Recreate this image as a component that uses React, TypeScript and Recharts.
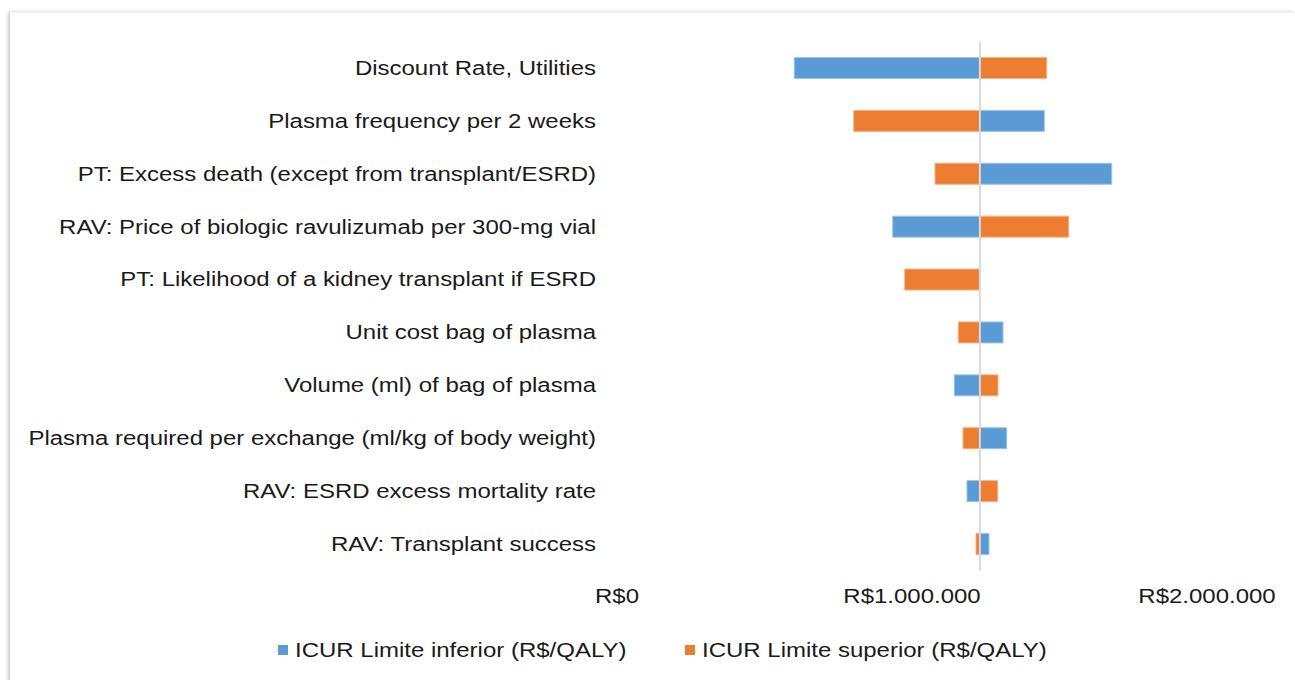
import React from "react";
import { BarChart, Bar, XAxis, YAxis, ReferenceLine, Legend } from "recharts";

const categories = [
  "Discount Rate, Utilities",
  "Plasma frequency per 2 weeks",
  "PT: Excess death (except from transplant/ESRD)",
  "RAV: Price of biologic ravulizumab per 300-mg vial",
  "PT: Likelihood of a kidney transplant if ESRD",
  "Unit cost bag of plasma",
  "Volume (ml) of bag of plasma",
  "Plasma required per exchange (ml/kg of body weight)",
  "RAV: ESRD excess mortality rate",
  "RAV: Transplant success",
];
const baseValue = 1230000;
const inferior = [601000, 1448500, 1677000, 934600, 1230000, 1308500, 1143400, 1321000, 1186400, 1261000];
const superior = [1456600, 802400, 1078000, 1531200, 975300, 1157000, 1291500, 1172900, 1290500, 1217000];
const xTicks = [0, 1000000, 2000000];
const seriesNames = ["ICUR Limite inferior (R$/QALY)", "ICUR Limite superior (R$/QALY)"];

const BLUE = "#5B9BD5";
const ORANGE = "#ED7D31";
const FONT = "'Liberation Sans', Arial, sans-serif";
const TEXT = "#1a1a1a";
const FS = 19.5;
const SX = 1.23;

const range = (v: number) => [Math.min(baseValue, v), Math.max(baseValue, v)];
const data = categories.map((c, i) => ({
  name: c,
  inf: range(inferior[i]),
  sup: range(superior[i]),
}));

const fmt = (v: number) => "R$" + String(Math.round(v)).replace(/\B(?=(\d{3})+(?!\d))/g, ".");

const YTick = (props: any) => {
  const { x, y, payload } = props;
  return (
    <g transform={`translate(${x},${y}) scale(${SX},1)`}>
      <text x={0} y={0} dy="0.355em" textAnchor="end" fontFamily={FONT} fontSize={FS} fill={TEXT}>
        {payload.value}
      </text>
    </g>
  );
};

const XTick = (props: any) => {
  const { x, y, payload } = props;
  return (
    <g transform={`translate(${x},${y}) scale(${SX},1)`}>
      <text x={0} y={0} dy="0.71em" textAnchor="middle" fontFamily={FONT} fontSize={FS} fill={TEXT}>
        {fmt(payload.value)}
      </text>
    </g>
  );
};

const legendPos = [268, 675];

const LegendContent = () => (
  <div style={{ position: "relative", width: 1285, height: 30, fontFamily: FONT, fontSize: FS, color: TEXT }}>
    {[BLUE, ORANGE].map((col, i) => (
      <React.Fragment key={i}>
        <span
          style={{
            position: "absolute",
            left: legendPos[i],
            top: 10,
            width: 10,
            height: 10,
            background: col,
          }}
        />
        <span
          style={{
            position: "absolute",
            left: legendPos[i] + 17,
            top: 0,
            lineHeight: "30px",
            whiteSpace: "nowrap",
            transform: `scaleX(${SX})`,
            transformOrigin: "left center",
          }}
        >
          {seriesNames[i]}
        </span>
      </React.Fragment>
    ))}
  </div>
);

export default function App() {
  return (
    <div
      style={{
        position: "absolute",
        left: 10,
        top: 12,
        width: 1285,
        height: 668,
        background: "#fff",
        boxShadow: "-2px 0 3px rgba(0,0,0,0.22)",
        borderTop: "1px solid #f3f3f3",
      }}
    >
      <BarChart
        width={1285}
        height={668}
        data={data}
        layout="vertical"
        margin={{ top: 28.5, right: 88, bottom: 30.6, left: 0 }}
        barSize={21}
        barGap={-21}
      >
        <XAxis
          type="number"
          domain={[0, 2000000]}
          ticks={xTicks}
          axisLine={false}
          tickLine={false}
          tickSize={6}
          tickMargin={13}
          height={50}
          tick={<XTick />}
          interval={0}
        />
        <YAxis
          type="category"
          dataKey="name"
          width={607}
          axisLine={false}
          tickLine={false}
          tickSize={6}
          tickMargin={15}
          interval={0}
          tick={<YTick />}
        />
        <Bar dataKey="inf" name={seriesNames[0]} fill={BLUE} stroke="#9DC3E6" strokeWidth={1} isAnimationActive={false} />
        <Bar dataKey="sup" name={seriesNames[1]} fill={ORANGE} stroke="#F4B183" strokeWidth={1} isAnimationActive={false} />
        <ReferenceLine x={baseValue} stroke="#d9d9d9" strokeWidth={2} />
        <Legend
          verticalAlign="bottom"
          height={40}
          content={<LegendContent />}
          wrapperStyle={{ left: 0, top: 622, width: 1285, height: 30 }}
        />
      </BarChart>
    </div>
  );
}
